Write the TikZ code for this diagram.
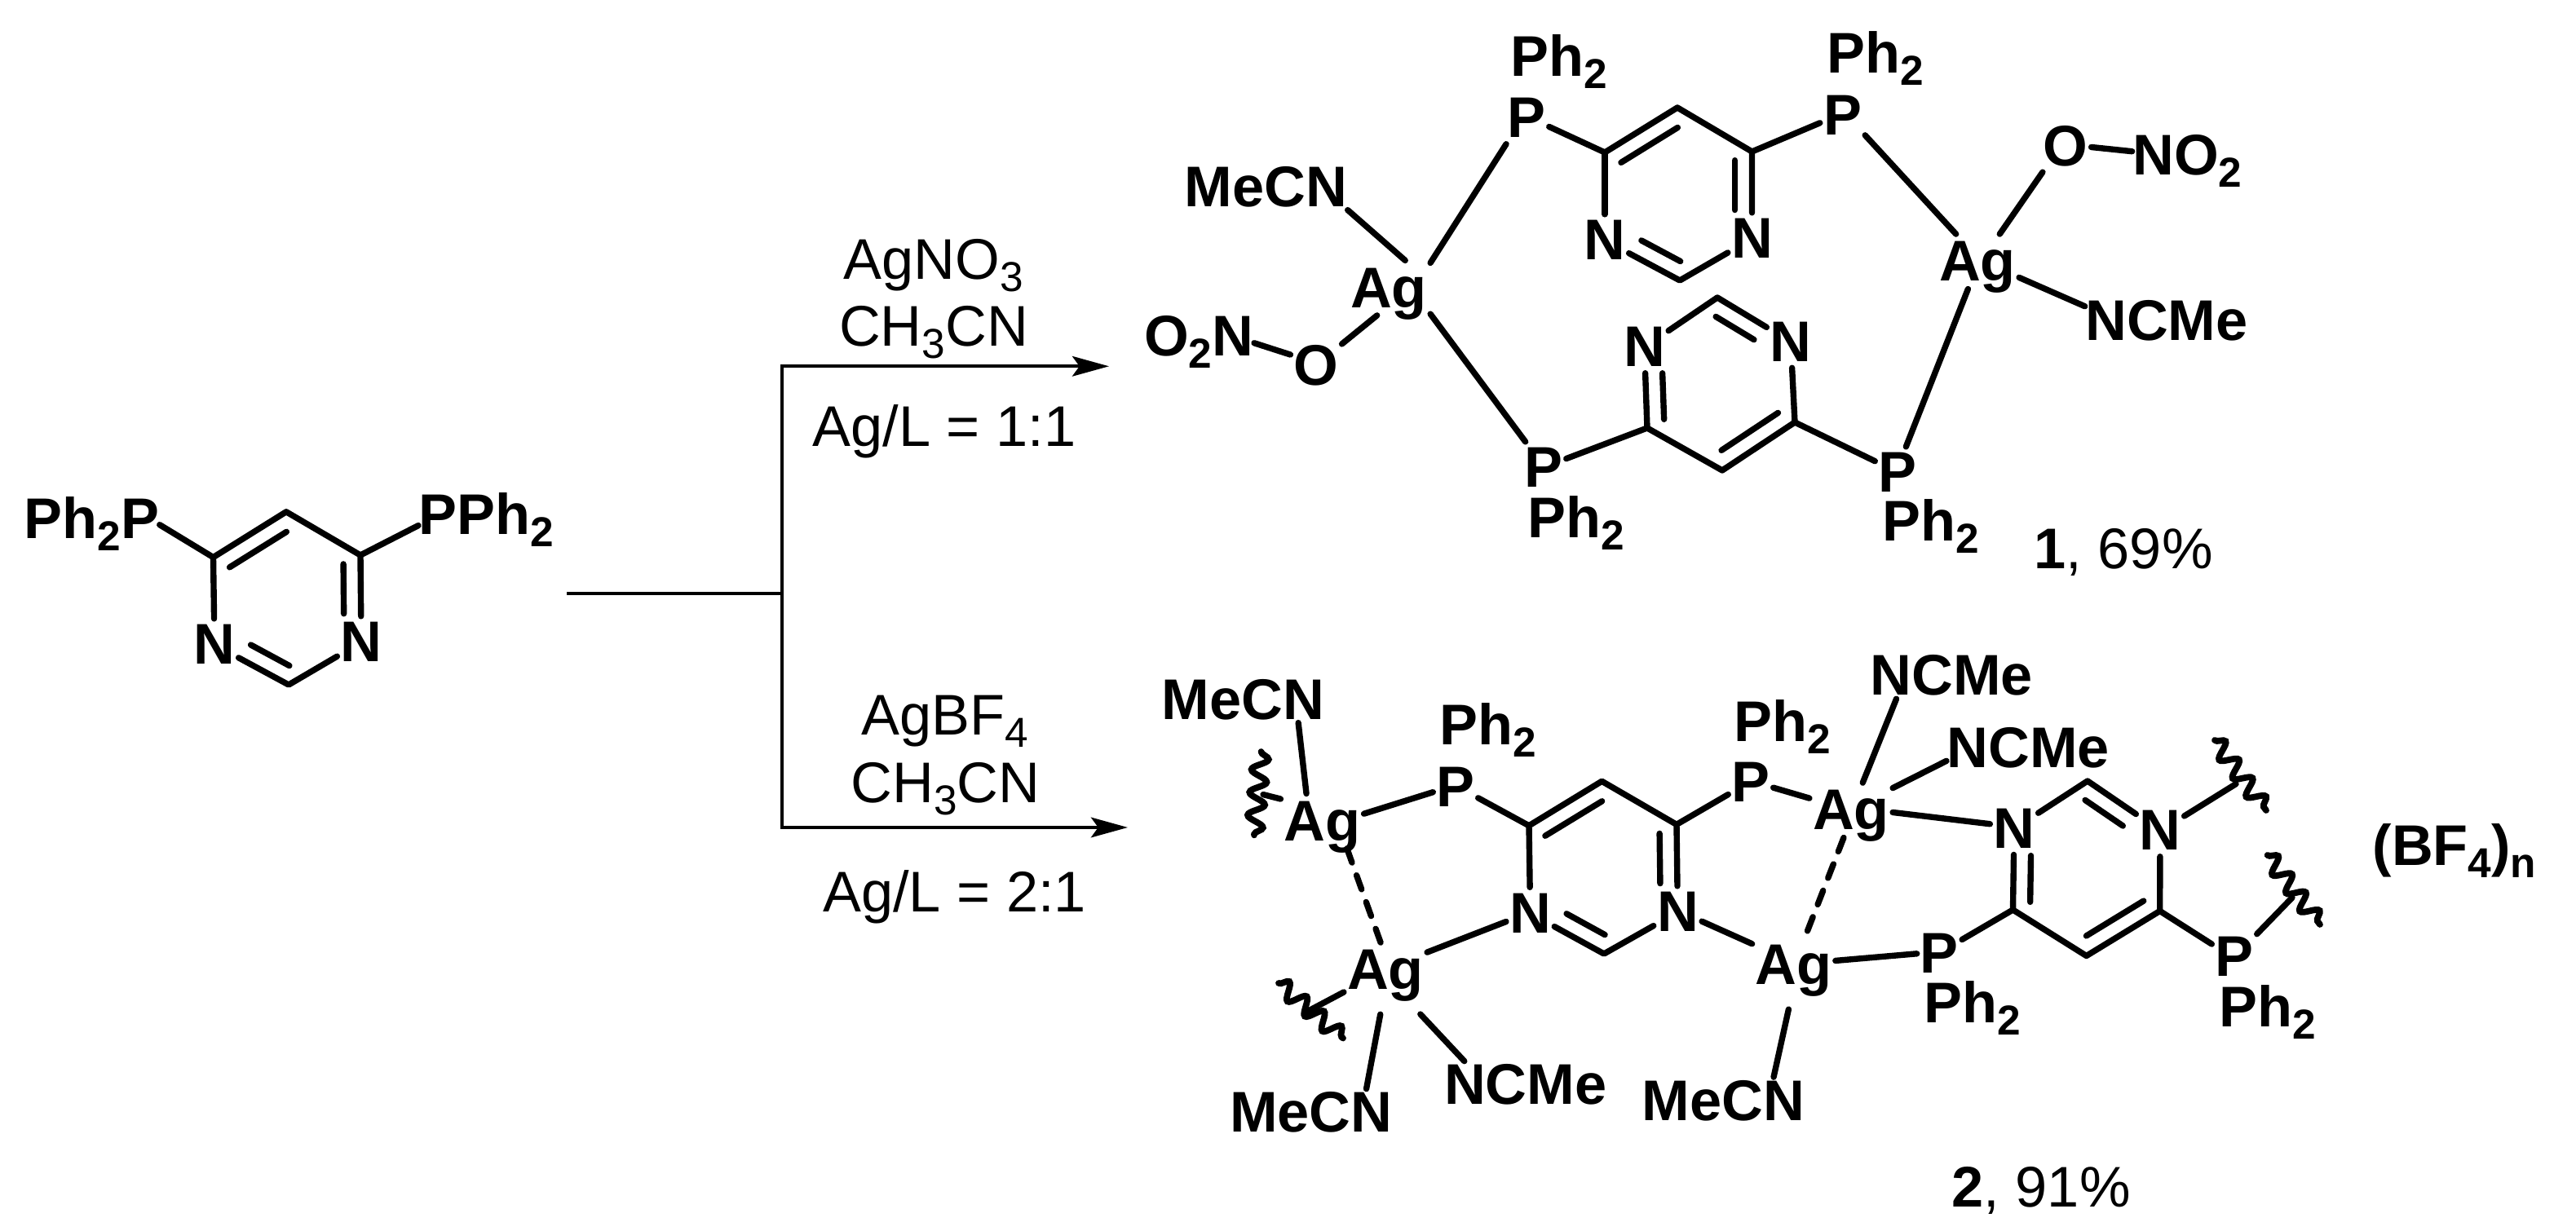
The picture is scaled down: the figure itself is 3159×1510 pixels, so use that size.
\documentclass[tikz,border=0pt]{standalone}
\usepackage{fontspec}
\setmainfont{Liberation Sans}
\usetikzlibrary{positioning,calc,arrows.meta,decorations.pathmorphing}
\newcommand{\lowr}[1]{\raisebox{-4.2pt}{\fontsize{14.6}{15}\selectfont #1}}
\newcommand{\atm}[3]{\node [atom] (#1) at (#2) {#3}}
\newcommand{\agn}[2]{\node [metal] (#1) at (#2) {Ag}}
\newcommand{\grp}[3]{\node [group] (#1) at (#2) {#3}}
\newcommand{\dbl}[4]{\draw[bond] ($(#1)!#3!(#2)!.21cm!-90:(#2)$) -- ($(#1)!#4!(#2)!.21cm!-90:(#2)$)}
\newcommand{\pyrim}[1]{
\draw[bond] (#1a) -- (#1b) -- (#1c) -- (#1d);
\draw[bond] (#1d) -- (#1e) -- (#1f);
\draw[bond] (#1f) -- (#1a);
\dbl{#1a}{#1b}{.1}{.88};
\dbl{#1c}{#1d}{.1}{.67};
\dbl{#1e}{#1f}{.1}{.62};
}
\tikzset{
  atom/.style={anchor=base,inner xsep=1pt,inner ysep=2pt,text depth=0pt,font=\fontsize{20}{24}\selectfont\bfseries},
  metal/.style={atom,inner xsep=1pt,inner ysep=2.5pt},
  group/.style={atom,anchor=base west,inner xsep=0pt,inner ysep=1pt},
  reagent/.style={anchor=base,inner sep=0pt,font=\fontsize{20}{24}\selectfont},
  yieldlabel/.style={reagent,anchor=base west},
  bond/.style={line width=2.1pt,line cap=round,line join=round},
  weak/.style={bond,dash pattern=on 5.2pt off 4.7pt},
  wavy/.style={line width=2.2pt,line cap=round,decorate,decoration={snake,segment length=.28cm,amplitude=.1cm}},
  rxn/.style={line width=1.2pt,-{Stealth[length=12.8pt,width=7pt,inset=2.5pt]}},
  stub/.style={line width=1.2pt}
}
\begin{document}
\begin{tikzpicture}[x=0.01cm,y=-0.01cm]
\useasboundingbox (0,0) rectangle (3159,1510);

\coordinate (La) at (261.5,683.6);
\coordinate (Lb) at (351,627.8);
\coordinate (Lc) at (442,681);
\coordinate (Le) at (354,840);
\atm{Ld}{443,812}{N};
\atm{Lf}{263,815}{N};
\grp{PL}{29,660.4}{Ph\lowr{2}P};
\grp{PR}{513,655.4}{PPh\lowr{2}};
\pyrim{L}
\draw[bond] (PL.354) -- (La);
\draw[bond] (Lc) -- (PR.190);

\coordinate (ST) at (695,728);
\coordinate (JN) at (959.3,728);
\coordinate (TIPA) at (1360,449.3);
\coordinate (TIPB) at (1383,1015);
\draw[stub] (ST) -- (JN);
\draw[rxn] (JN) |- (TIPA);
\draw[rxn] (JN) |- (TIPB);

\node [reagent] (RA1) at (1145,342.3) {AgNO\lowr{3}};
\node [reagent] (RA2) at (1145,425) {CH\lowr{3}CN};
\node [reagent] (RA3) at (1158,547.7) {Ag/L = 1:1};
\node [reagent] (RB1) at (1159,902) {AgBF\lowr{4}};
\node [reagent] (RB2) at (1159.5,985) {CH\lowr{3}CN};
\node [reagent] (RB3) at (1170.7,1119) {Ag/L = 2:1};

\coordinate (Aa) at (1968,187);
\coordinate (Ab) at (2057,132);
\coordinate (Ac) at (2148.5,186);
\coordinate (Ae) at (2060,344);
\atm{Ad}{2148.5,317}{N};
\atm{Af}{1968,319}{N};
\pyrim{A}

\coordinate (Ba) at (2201,518);
\coordinate (Bb) at (2112,577);
\coordinate (Bc) at (2020,525);
\coordinate (Be) at (2106,365);
\atm{Bd}{2016.5,450}{N};
\atm{Bf}{2196,443.5}{N};
\pyrim{B}

\agn{AGL}{1703,377.4};
\agn{AGR}{2425,345};
\atm{P1}{1872,169}{P};
\atm{P2}{2259.5,166}{P};
\atm{P3}{1893,598}{P};
\atm{P4}{2327,604}{P};
\grp{PH1}{1852,94}{Ph\lowr{2}};
\grp{PH2}{2240,89.5}{Ph\lowr{2}};
\grp{PH3}{1873,660}{Ph\lowr{2}};
\grp{PH4}{2308,664}{Ph\lowr{2}};
\grp{MC1}{1452,253.4}{MeCN};
\grp{NC1}{2556.7,418}{NCMe};
\node [group,anchor=base east] (ON1) at (1538,437) {O\lowr{2}N};
\grp{ON2}{2614.6,215}{NO\lowr{2}};
\atm{OL}{1614,473}{O};
\atm{OR}{2533,203.4}{O};

\draw[bond] (MC1.344) -- (AGL.59);
\draw[bond] (P1.232) -- (AGL.31);
\draw[bond] (AGL.328) -- (P3.125);
\draw[bond] (AGL.247) -- (OL.40);
\draw[bond] (OL.157) -- (ON1.353);
\draw[bond] (P1.339) -- (Aa);
\draw[bond] (Ac) -- (P2.198);
\draw[bond] (P3.22) -- (Bc);
\draw[bond] (Ba) -- (P4.153);
\draw[bond] (P2.319) -- (AGR.128);
\draw[bond] (P4.72) -- (AGR.251);
\draw[bond] (AGR.51) -- (OR.229);
\draw[bond] (OR.357) -- (ON2.176);
\draw[bond] (AGR.339) -- (NC1.170);

\node [yieldlabel] (YA) at (2494,698) {\textbf{1}, 69\%};

\coordinate (Ca) at (1875,1012.8);
\coordinate (Cb) at (1964.4,958.3);
\coordinate (Cc) at (2056,1011.4);
\coordinate (Ce) at (1967,1170);
\atm{Cd}{2057.4,1143}{N};
\atm{Cf}{1876.6,1144.5}{N};
\pyrim{C}

\coordinate (Da) at (2648.7,1117.5);
\coordinate (Db) at (2558.6,1172.5);
\coordinate (Dc) at (2468.5,1116);
\coordinate (De) at (2560,958);
\atm{Dd}{2470,1040.7}{N};
\atm{Df}{2649,1043}{N};
\pyrim{D}

\agn{AG1}{1621.5,1031.4};
\agn{AG2}{1699,1214};
\agn{AG3}{2199.7,1208};
\agn{AG4}{2270,1018};
\atm{P5}{1785,989.5}{P};
\atm{P6}{2147,984}{P};
\atm{P7}{2378.4,1194}{P};
\atm{P8}{2740,1197.6}{P};
\grp{PH5}{1764.6,914}{Ph\lowr{2}};
\grp{PH6}{2126,910}{Ph\lowr{2}};
\grp{PH7}{2359,1255}{Ph\lowr{2}};
\grp{PH8}{2721,1259.5}{Ph\lowr{2}};
\grp{MC2}{1424,882.4}{MeCN};
\grp{MC3}{1507.4,1389}{MeCN};
\grp{MC4}{2013,1374.5}{MeCN};
\grp{NC2}{1770.4,1355}{NCMe};
\grp{NC3}{2293,853}{NCMe};
\grp{NC4}{2387,942}{NCMe};

\draw[bond] (MC2.337) -- (AG1.120);
\draw[bond] (AG1.10) -- (P5.193);
\draw[bond] (P5.334) -- (Ca);
\draw[bond] (Cc) -- (P6.208);
\draw[bond] (P6.347) -- (AG4.164);
\draw[bond] (AG4.67) -- (NC3.203);
\draw[bond] (AG4.28) -- (NC4.189.5);
\draw[bond] (AG4.357) -- (Dd.169);
\draw[bond] (Cf.199) -- (AG2.23);
\draw[bond] (Cd.339.5) -- (AG3.153);
\draw[bond] (AG3.6) -- (P7.180);
\draw[bond] (P7.32) -- (Dc);
\draw[bond] (Da) -- (P8.151);
\draw[bond,shorten <=6pt] (AG2.266) -- (MC3.23);
\draw[bond,shorten <=8pt] (AG2.305) -- (NC2.159);
\draw[bond,shorten <=6pt] (AG3.267) -- (MC4.25);
\draw[weak] (AG1.312) -- (AG2.100);
\draw[weak] (AG4.255) -- (AG3.68);

\coordinate (WA1) at (1546.5,922);
\coordinate (WA2) at (1538,1024.4);
\coordinate (WA) at (1549,974.6);
\coordinate (WB1) at (1568,1206);
\coordinate (WB2) at (1647,1273.5);
\coordinate (WB) at (1602.7,1241);
\coordinate (WC1) at (2716,908);
\coordinate (WC2) at (2779,994);
\coordinate (WC) at (2742,961.6);
\coordinate (WD1) at (2780.6,1049);
\coordinate (WD2) at (2845,1134);
\coordinate (WD) at (2811,1101);
\draw[wavy] (WA1) -- (WA2);
\draw[wavy] (WB1) -- (WB2);
\draw[wavy] (WC1) -- (WC2);
\draw[wavy] (WD1) -- (WD2);
\draw[bond] (AG1.152) -- (WA);
\draw[bond] (AG2.208) -- (WB);
\draw[bond] (Df.31.6) -- (WC);
\draw[bond] (P8.45) -- (WD);

\grp{BF}{2909,1061.7}{(BF\lowr{4})\lowr{n}};
\node [yieldlabel] (YB) at (2393,1480.6) {\textbf{2}, 91\%};

\end{tikzpicture}
\end{document}
